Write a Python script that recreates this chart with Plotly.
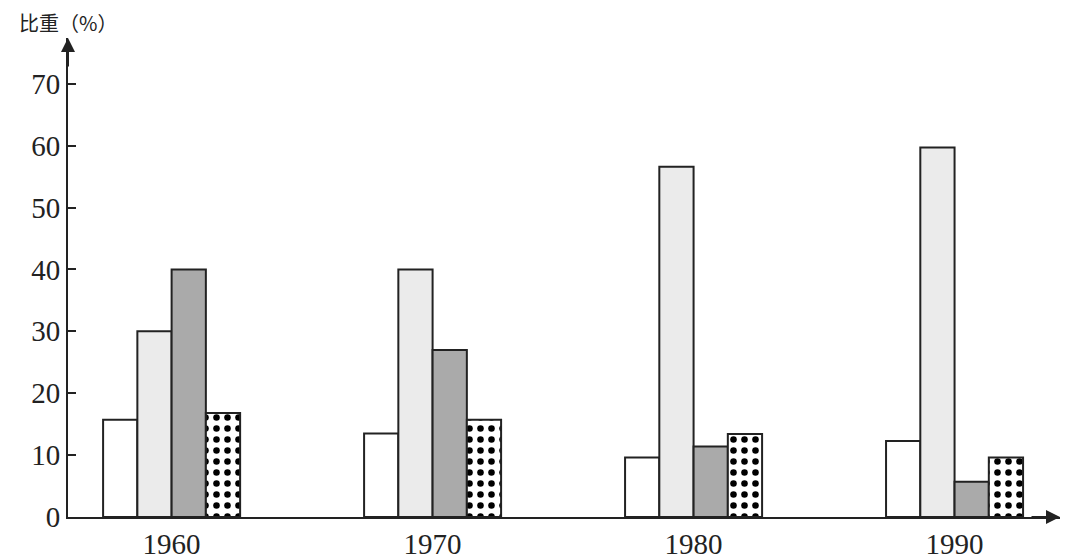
import plotly.graph_objects as go

years = [1960, 1970, 1980, 1990]
series_a = [15.7, 13.5, 9.6, 12.3]
series_b = [30, 40, 56.6, 59.7]
series_c = [40, 27, 11.4, 5.7]
series_d = [16.8, 15.7, 13.4, 9.6]
y_ticks = [0, 10, 20, 30, 40, 50, 60, 70]

serif = "Liberation Serif, Times New Roman, serif"
ink = "#222"

fig = go.Figure()
fig.add_trace(go.Bar(x=years, y=series_a, marker=dict(color="white", line=dict(color=ink, width=2))))
fig.add_trace(go.Bar(x=years, y=series_b, marker=dict(color="#ebebeb", line=dict(color=ink, width=2))))
fig.add_trace(go.Bar(x=years, y=series_c, marker=dict(color="#aaaaaa", line=dict(color=ink, width=2))))
fig.add_trace(go.Bar(x=years, y=series_d,
                     marker=dict(color="white", line=dict(color=ink, width=2),
                                 pattern=dict(shape=".", fgcolor="black", bgcolor="white",
                                              fgopacity=1, size=11, solidity=0.28))))

# page has an 8px body margin, so margins are shifted by that
fig.update_layout(
    width=1080, height=560,
    margin=dict(l=60, r=28, t=30, b=51, autoexpand=False),
    plot_bgcolor="white", paper_bgcolor="white",
    barmode="group", bargap=0.475, bargroupgap=0,
    showlegend=False,
    font=dict(family=serif, size=29, color=ink),
    xaxis=dict(range=[1956.03, 1994.04], tickvals=years, ticktext=[str(y) for y in years],
               showline=True, linecolor=ink, linewidth=2, ticks="", showgrid=False,
               zeroline=False, fixedrange=True, automargin=False),
    yaxis=dict(range=[0, 77.4], tickvals=y_ticks, showline=True, linecolor=ink, linewidth=2,
               ticks="inside", ticklen=8, tickwidth=2, tickcolor=ink, showgrid=False,
               zeroline=False, fixedrange=True, automargin=False),
)

# arrow heads on the axes
fig.add_annotation(x=0, y=1, xref="paper", yref="paper", ax=0, ay=30, showarrow=True,
                   arrowhead=2, arrowsize=1.4, arrowwidth=2, arrowcolor=ink, text="")
fig.add_annotation(x=1, y=0, xref="paper", yref="paper", ax=-30, ay=0, showarrow=True,
                   arrowhead=2, arrowsize=1.4, arrowwidth=2, arrowcolor=ink, text="")

fig.add_annotation(x=0, y=1, xref="paper", yref="paper", xanchor="center", yanchor="bottom",
                   yshift=0, borderpad=0, showarrow=False, text="比重（%）",
                   font=dict(family="Noto Sans CJK SC", size=20, color=ink))

fig.write_html("out.html")
